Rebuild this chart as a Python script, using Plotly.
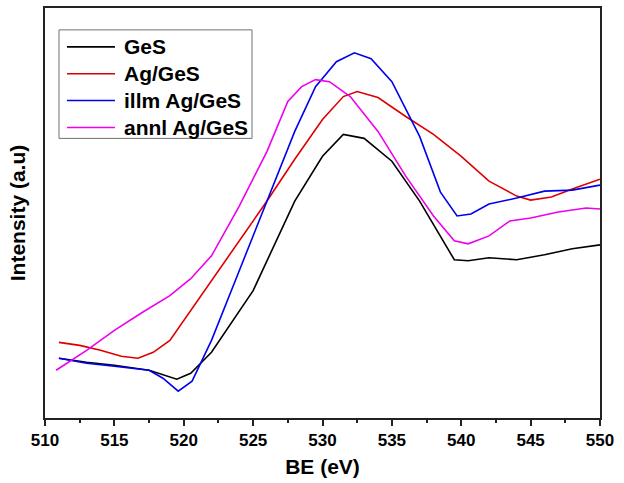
import plotly.graph_objects as go

# Black: GeS
ges_x = [511, 513, 515, 517.5, 519.5, 520.5, 522, 525, 528, 530, 531.5, 533, 535, 537, 539.5, 540.5, 542, 544, 546, 548, 550]
ges_y = [58, 54, 51, 46, 37, 43, 64, 126, 216, 261, 283, 279, 256, 216, 157, 156, 159, 157, 162, 168, 172]

# Red: Ag/GeS
ag_x = [511, 512.5, 514, 515.5, 516.7, 517.8, 519, 520, 522, 524, 526, 528, 530, 531.5, 532.5, 534, 536, 538, 540, 542, 544, 545, 546.5, 548, 550]
ag_y = [74, 71, 66, 60, 58, 64, 76, 96, 136, 176, 216, 258, 298, 321, 326, 320, 301, 283, 261, 236, 221, 217, 220, 228, 238]

# Blue: illm Ag/GeS
illm_x = [511, 513, 515, 517.5, 518.5, 519.6, 520.6, 522, 524, 526, 528, 529.5, 531, 532.3, 533.5, 535, 537, 538.5, 539.7, 540.7, 542, 544, 546, 548, 550]
illm_y = [58, 53, 50, 46, 38, 25, 35, 76, 146, 216, 286, 331, 356, 365, 359, 336, 281, 225, 201, 203, 213, 219, 226, 227, 232]

# Magenta: annl Ag/GeS
annl_x = [510.8, 513, 515, 517, 519, 520.5, 522, 524, 526, 527.5, 528.5, 529.5, 530.5, 532, 534, 536, 538, 539.5, 540.5, 542, 543.5, 545, 547, 549, 550]
annl_y = [46, 66, 86, 104, 121, 138, 161, 211, 266, 316, 331, 338, 336, 321, 286, 241, 201, 176, 173, 181, 196, 199, 205, 209, 208]

names = ["GeS", "Ag/GeS", "illm Ag/GeS", "annl Ag/GeS"]
colors = ["#000000", "#dd0000", "#0000ee", "#ee00ee"]
xs_all = [ges_x, ag_x, illm_x, annl_x]
ys_all = [ges_y, ag_y, illm_y, annl_y]

fig = go.Figure()
for name, xs, ys, col in zip(names, xs_all, ys_all, colors):
    fig.add_trace(go.Scatter(x=xs, y=ys, mode="lines", name=name,
                             line=dict(color=col, width=1.6), showlegend=False))

# Legend drawn in paper coordinates (box, line samples, labels)
shapes = [dict(type="rect", xref="paper", yref="paper",
               x0=0.0252, x1=0.3730, y0=0.682, y1=0.9466,
               line=dict(color="#707070", width=1), fillcolor="white", layer="above")]
annotations = []
row_y = [0.9053, 0.8398, 0.7743, 0.7087]
for name, col, ry in zip(names, colors, row_y):
    shapes.append(dict(type="line", xref="paper", yref="paper",
                       x0=0.0396, x1=0.1261, y0=ry, y1=ry,
                       line=dict(color=col, width=1.6), layer="above"))
    annotations.append(dict(xref="paper", yref="paper", x=0.1387, y=ry,
                            xanchor="left", yanchor="middle", showarrow=False,
                            text=name, font=dict(size=21, weight="bold",
                                                 family="Liberation Sans, Arial", color="black")))

fig.update_layout(
    width=624, height=483,
    margin=dict(l=45, r=24, t=6, b=65),
    paper_bgcolor="white", plot_bgcolor="white",
    font=dict(family="Liberation Sans, Arial", size=17, color="black"),
    showlegend=False,
    shapes=shapes, annotations=annotations,
    xaxis=dict(range=[510, 550], tickvals=[510, 515, 520, 525, 530, 535, 540, 545, 550],
               ticks="outside", ticklen=6, tickwidth=1.5, tickcolor="#222",
               minor=dict(tickvals=[512.5, 517.5, 522.5, 527.5, 532.5, 537.5, 542.5, 547.5],
                          ticks="outside", ticklen=3, tickcolor="#222"),
               showline=True, linecolor="#222", linewidth=2, mirror=True,
               showgrid=False, zeroline=False,
               tickfont=dict(size=17, weight="bold"),
               title=dict(text="BE (eV)", font=dict(size=21, weight="bold"), standoff=10)),
    yaxis=dict(range=[-2, 410], showticklabels=False, ticks="",
               showline=True, linecolor="#222", linewidth=2, mirror=True,
               showgrid=False, zeroline=False,
               title=dict(text="Intensity (a.u)", font=dict(size=21, weight="bold"), standoff=12)),
)

fig.write_html("out.html", config={"displayModeBar": False},
               post_script="document.body.style.margin='0';")
